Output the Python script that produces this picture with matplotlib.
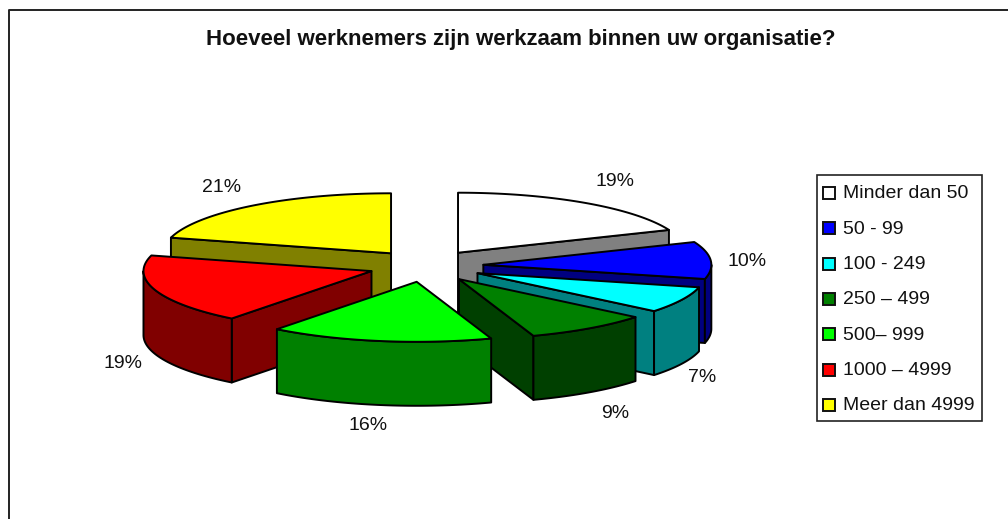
"""Exploded 3D pie: prism slices projected onto a flat pixel-sized axes."""
import numpy as np
import matplotlib
matplotlib.use("Agg")
import matplotlib.pyplot as plt
from matplotlib.patches import Polygon, Rectangle

plt.rcParams["font.family"] = ["Liberation Sans", "DejaVu Sans"]

TITLE = "Hoeveel werknemers zijn werkzaam binnen uw organisatie?"
categories = ["Minder dan 50", "50 - 99", "100 - 249", "250 – 499",
              "500– 999", "1000 – 4999", "Meer dan 4999"]
# they round to the printed percentages
values = [18.8, 10.0, 7.1, 8.8, 15.8, 18.7, 20.8]
top_colors = ["#ffffff", "#0000ff", "#00ffff", "#008000", "#00ff00", "#ff0000", "#ffff00"]
side_colors = ["#808080", "#000080", "#008080", "#004000", "#008000", "#800000", "#808000"]
# painter's order, back to front
draw_order = [0, 6, 1, 2, 3, 5, 4]

# projection of the pie, in pixels
CX, CY = 426, 266
RX, RY = 228, 60
EX, EY = 57.5, 16
DEPTH = 64

LABEL_XY = [(615, 182), (747, 261), (702, 378), (615, 414), (368, 426), (123, 363), (222, 187)]


def project(theta, r, ox, oy):
    """theta in degrees clockwise from the top, r as a share of the radius."""
    t = np.radians(theta)
    return ox + RX * r * np.sin(t), oy - RY * r * np.cos(t)


def extrude(xs, ys):
    """Closed face between a top edge and the same edge DEPTH lower."""
    xs, ys = np.atleast_1d(xs), np.atleast_1d(ys)
    return np.column_stack([np.r_[xs, xs[::-1]], np.r_[ys, ys[::-1] + DEPTH]])


def draw_slice(ax, start, stop, top, side):
    mid = np.radians((start + stop) / 2)
    ox, oy = CX + EX * np.sin(mid), CY - EY * np.cos(mid)
    style = dict(ec="black", lw=1.4, joinstyle="round")

    # only faces turned towards the viewer
    for edge, normal in ((start, start - 90), (stop, stop + 90)):
        if np.cos(np.radians(normal)) < 0:
            ex, ey = project(edge, 1, ox, oy)
            ax.add_patch(Polygon(extrude([ox, ex], [oy, ey]), fc=side, **style))
    front0, front1 = max(start, 90), min(stop, 270)
    if front1 > front0:
        ang = np.linspace(front0, front1, 60)
        rx, ry = project(ang, 1, ox, oy)
        ax.add_patch(Polygon(extrude(rx, ry), fc=side, **style))

    ang = np.linspace(start, stop, 80)
    rx, ry = project(ang, 1, ox, oy)
    ax.add_patch(Polygon(np.column_stack([np.r_[ox, rx], np.r_[oy, ry]]), fc=top, **style))


fig = plt.figure(figsize=(10.08, 5.19), dpi=100)
ax = fig.add_axes([0, 0, 1, 1])
ax.set_xlim(0, 1008)
ax.set_ylim(519, 0)
ax.axis("off")

# chart frame is cut off at the right and bottom of the picture
ax.plot([8.5, 8.5, 1008], [519, 10, 10], color="#222222", lw=1.4)

ax.text(521, 40, TITLE, ha="center", va="center", fontsize=16, fontweight="bold", color="#111111")

edges = np.r_[0, np.cumsum(values)] / sum(values) * 360
for i in draw_order:
    draw_slice(ax, edges[i], edges[i + 1], top_colors[i], side_colors[i])

for v, (x, y) in zip(values, LABEL_XY):
    ax.text(x, y, f"{round(v)}%", ha="center", va="center", fontsize=14, color="#111111")

ax.add_patch(Rectangle((816.5, 175), 165, 246, fc="white", ec="#222222", lw=1.2))
legend_y = np.linspace(193, 405, len(categories))
for y, name, col in zip(legend_y, categories, top_colors):
    ax.add_patch(Rectangle((823, y - 6), 12, 12, fc=col, ec="#111111", lw=1.4))
    ax.text(843, y + 1, name, ha="left", va="center", fontsize=14, color="#111111")

fig.savefig("out.png", dpi=100)
